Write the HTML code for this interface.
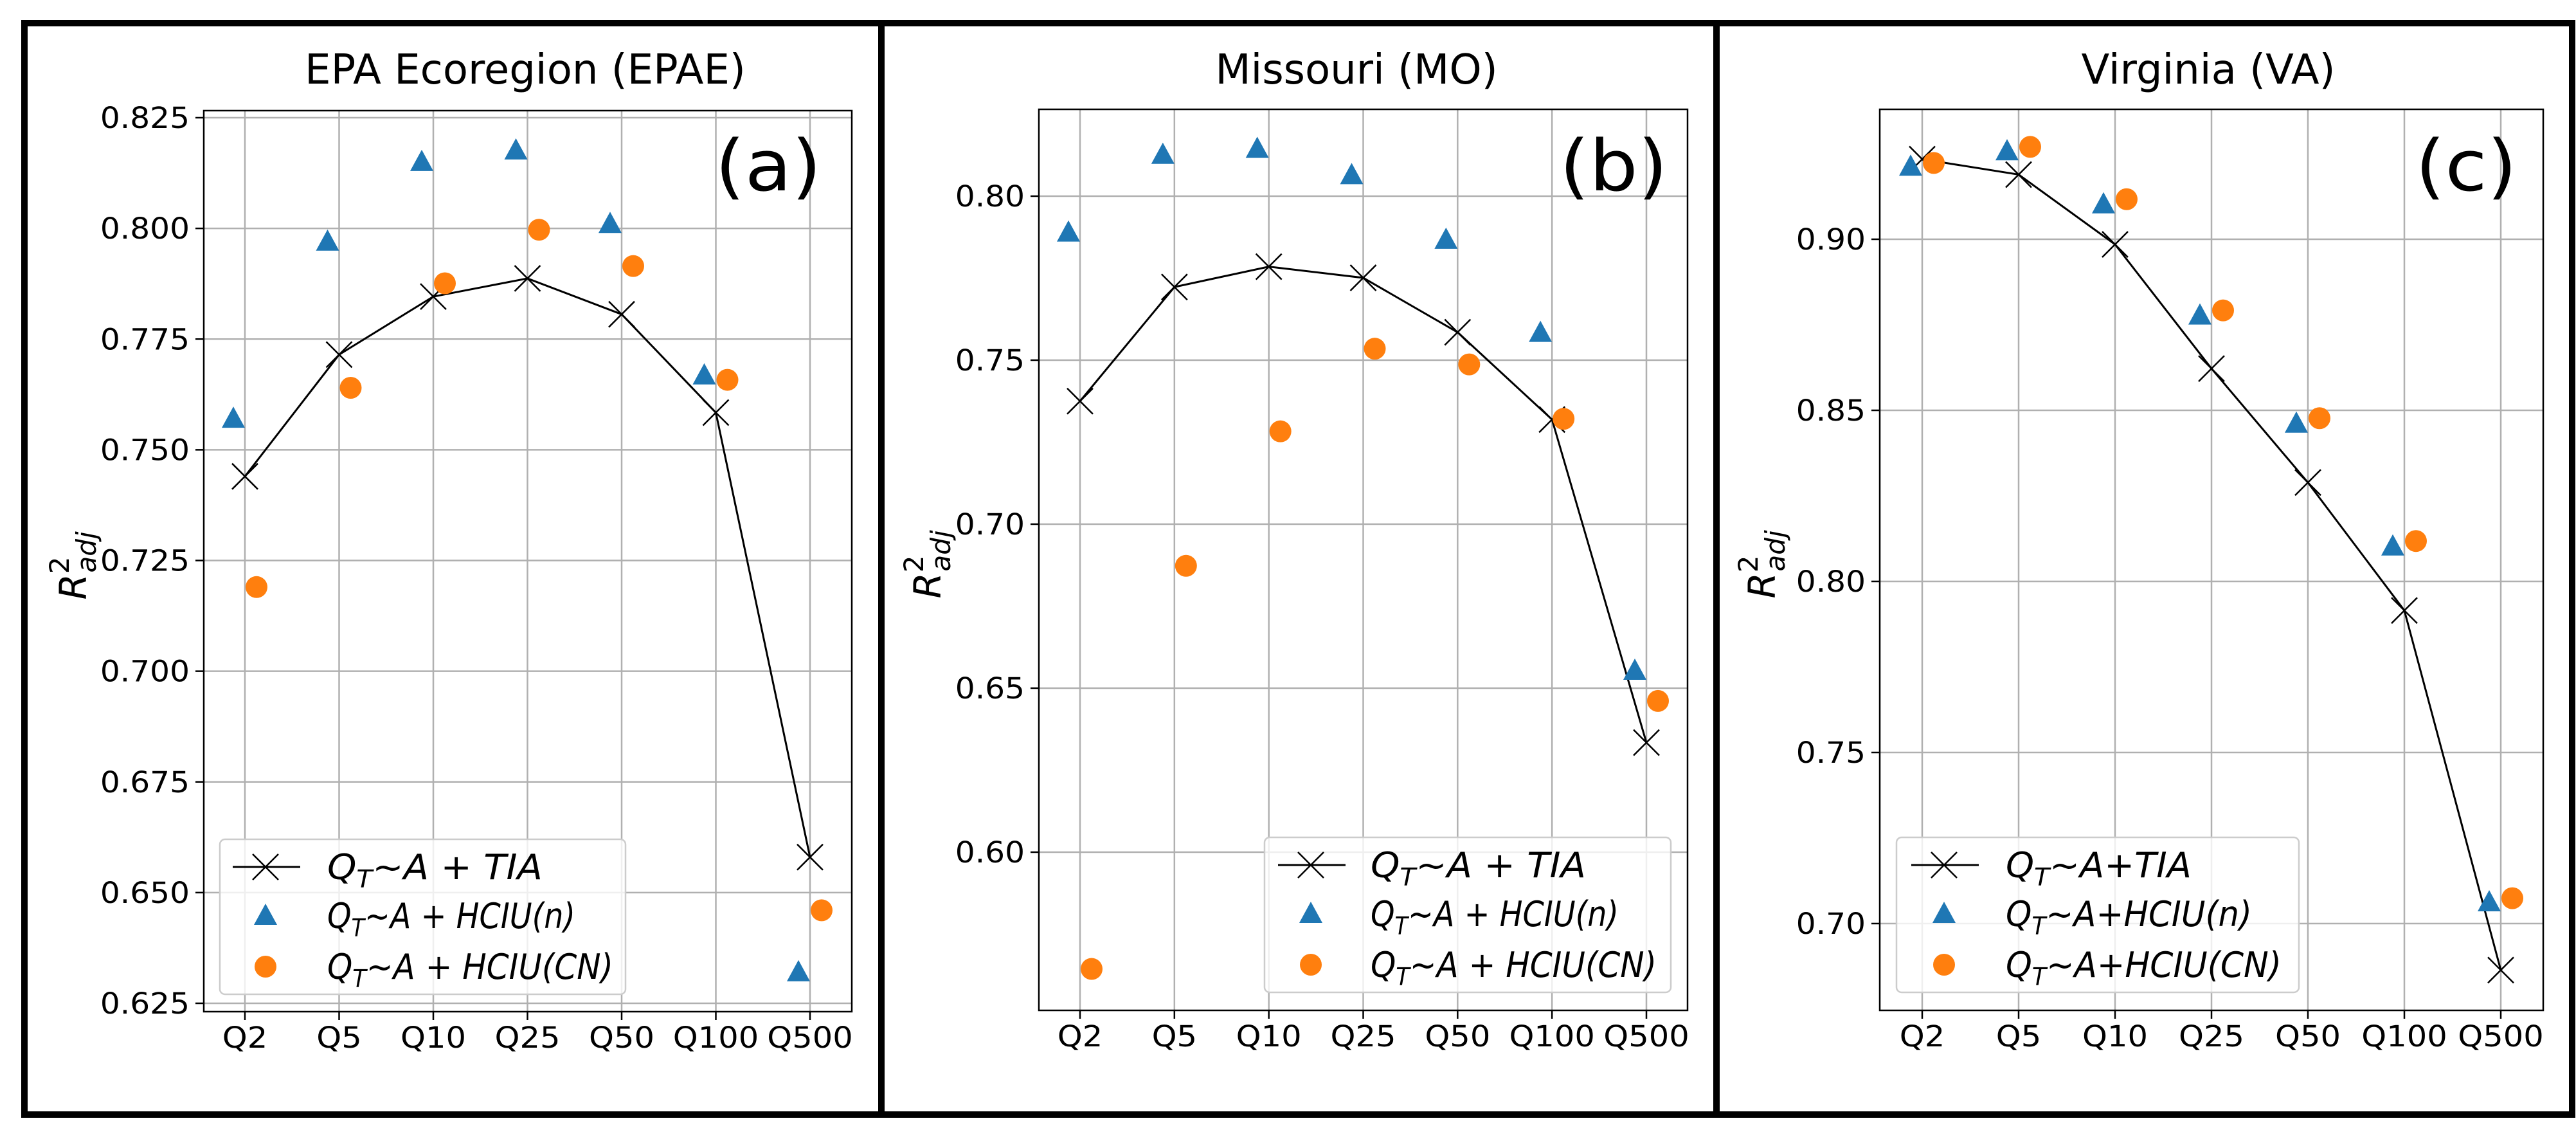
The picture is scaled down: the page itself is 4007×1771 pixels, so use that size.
<!DOCTYPE html>
<html><head><meta charset="utf-8"><style>
html,body{margin:0;padding:0;background:#fff;}
svg{display:block;}
text{font-family:"DejaVu Sans","Liberation Sans",sans-serif;}
</style></head><body>
<svg id="fig" width="4007" height="1771" viewBox="0 0 4007 1771" xmlns="http://www.w3.org/2000/svg">
<rect x="0" y="0" width="4007" height="1771" fill="#fff"/>
<rect x="38" y="36" width="3963" height="1697" fill="none" stroke="#000" stroke-width="10"/>
<line x1="1371" y1="36" x2="1371" y2="1733" stroke="#000" stroke-width="10"/>
<line x1="2670" y1="36" x2="2670" y2="1733" stroke="#000" stroke-width="10"/>
<g id="plots"></g>
</svg>
<script>
const categories = ["Q2","Q5","Q10","Q25","Q50","Q100","Q500"];
// Panel (a) EPA Ecoregion
const epaTIA  = [0.744,0.7715,0.7846,0.7887,0.7806,0.7584,0.658];
const epaHCIUn = [0.757,0.797,0.815,0.8176,0.801,0.7668,0.632];
const epaHCIUcn = [0.719,0.764,0.7876,0.7997,0.7915,0.7658,0.646];
const epaTicks = [0.625,0.650,0.675,0.700,0.725,0.750,0.775,0.800,0.825];
const epaTickLabels = ["0.625","0.650","0.675","0.700","0.725","0.750","0.775","0.800","0.825"];
// Panel (b) Missouri
const moTIA  = [0.7375,0.7723,0.7785,0.7751,0.7585,0.7319,0.6334];
const moHCIUn = [0.7889,0.8126,0.8144,0.8064,0.7867,0.7583,0.6553];
const moHCIUcn = [0.5644,0.6873,0.7283,0.7535,0.7487,0.7321,0.6461];
const moTicks = [0.60,0.65,0.70,0.75,0.80];
const moTickLabels = ["0.60","0.65","0.70","0.75","0.80"];
// Panel (c) Virginia
const vaTIA  = [0.9234,0.9189,0.8985,0.8622,0.8289,0.7915,0.6864];
const vaHCIUn = [0.9212,0.9257,0.9102,0.8777,0.8461,0.8102,0.7062];
const vaHCIUcn = [0.9223,0.9270,0.9117,0.8792,0.8477,0.8118,0.7074];
const vaTicks = [0.70,0.75,0.80,0.85,0.90];
const vaTickLabels = ["0.70","0.75","0.80","0.85","0.90"];

const NS = "http://www.w3.org/2000/svg";
const root = document.getElementById('plots');
function mk(tag, attrs, parent){
  const e = document.createElementNS(NS, tag);
  for (const k in attrs) e.setAttribute(k, attrs[k]);
  (parent||root).appendChild(e);
  return e;
}
function stretch(t, f){
  const w = t.getComputedTextLength();
  if (w > 0) { t.setAttribute('textLength', (w*f).toFixed(1)); t.setAttribute('lengthAdjust','spacingAndGlyphs'); }
}

const panels = [
  {key:'a', title:'EPA Ecoregion (EPAE)', letter:'(a)', L:317, R:1325, T:172, B:1573,
   v0:0.825, p0:183, v1:0.625, p1:1560, x0:381, x1:1260,
   tia:epaTIA, hn:epaHCIUn, hc:epaHCIUcn, ticks:epaTicks, tl:epaTickLabels,
   titleX:817, letterX:1195, ylabX:116, leg:{x:342,y:1305,w:631,h:241,mx:413,tx:509}, spaced:true, lw:[335,386,445]},
  {key:'b', title:'Missouri (MO)', letter:'(b)', L:1616, R:2625, T:170, B:1571,
   v0:0.80, p0:305, v1:0.60, p1:1325, x0:1680, x1:2561,
   tia:moTIA, hn:moHCIUn, hc:moHCIUcn, ticks:moTicks, tl:moTickLabels,
   titleX:2110, letterX:2510, ylabX:1445, leg:{x:1967,y:1302,w:632,h:241,mx:2039,tx:2132}, spaced:true, lw:[335,386,445]},
  {key:'c', title:'Virginia (VA)', letter:'(c)', L:2924, R:3956, T:170, B:1571,
   v0:0.90, p0:372, v1:0.70, p1:1436, x0:2990, x1:3890,
   tia:vaTIA, hn:vaHCIUn, hc:vaHCIUcn, ticks:vaTicks, tl:vaTickLabels,
   titleX:3435, letterX:3836, ylabX:2743, leg:{x:2950,y:1302,w:626,h:241,mx:3024,tx:3120}, spaced:false, lw:[289,383,429]}
];

function legendText(parent, x, y, rest, spaced, len){
  const t = mk('text', {x:x, y:y, 'font-size':54, 'font-style':'italic', fill:'#000', textLength:len, lengthAdjust:'spacingAndGlyphs'}, parent);
  
  
  const a = document.createElementNS(NS,'tspan'); a.textContent='Q'; t.appendChild(a);
  const b = document.createElementNS(NS,'tspan'); b.setAttribute('font-size','38'); b.setAttribute('dy','13'); b.textContent='T'; t.appendChild(b);
  const c = document.createElementNS(NS,'tspan'); c.setAttribute('dy','-13'); c.textContent = spaced ? ('~A + ' + rest) : ('~A+' + rest); t.appendChild(c);
}

function tri(parent, cx, cy){
  return mk('polygon', {points:`${cx},${cy-19} ${cx-18},${cy+14} ${cx+18},${cy+14}`, fill:'#1f77b4'}, parent);
}
function xmark(parent, cx, cy){
  return mk('path', {d:`M${cx-20},${cy-20}L${cx+20},${cy+20}M${cx-20},${cy+20}L${cx+20},${cy-20}`, stroke:'#000', 'stroke-width':2.5, fill:'none'}, parent);
}

panels.forEach(p => {
  const g = mk('g', {});
  
  
  const yS = v => p.p0 + (p.v0 - v) / (p.v0 - p.v1) * (p.p1 - p.p0);
  const xS = i => p.x0 + i * (p.x1 - p.x0) / (categories.length - 1);
  const off = 18;

  p.ticks.forEach((v, i) => {
    const y = yS(v);
    const gl = mk('line', {x1:p.L, x2:p.R, y1:y, y2:y, stroke:'#b0b0b0', 'stroke-width':2.5}, g);
    
    
    mk('line', {x1:p.L-13, x2:p.L, y1:y, y2:y, stroke:'#000', 'stroke-width':2.5}, g);
    const t = mk('text', {x:p.L-22, y:y+16, 'font-size':45, 'text-anchor':'end', fill:'#000'}, g);
    
    
    t.textContent = p.tl[i];
    stretch(t, 1.08);
  });
  categories.forEach((c, i) => {
    const x = xS(i);
    const gl = mk('line', {x1:x, x2:x, y1:p.T, y2:p.B, stroke:'#b0b0b0', 'stroke-width':2.5}, g);
    
    
    mk('line', {x1:x, x2:x, y1:p.B, y2:p.B+13, stroke:'#000', 'stroke-width':2.5}, g);
    const t = mk('text', {x:x, y:p.B+56, 'font-size':45, 'text-anchor':'middle', fill:'#000'}, g);
    
    
    t.textContent = c;
    stretch(t, 1.1);
  });

  const pts = p.tia.map((v, i) => `${xS(i)},${yS(v)}`).join(' ');
  const pl = mk('polyline', {points:pts, fill:'none', stroke:'#000', 'stroke-width':3}, g);
  
  
  p.tia.forEach((v, i) => {
    const m = xmark(g, xS(i), yS(v));
    
    
  });
  p.hn.forEach((v, i) => {
    const m = tri(g, xS(i) - off, yS(v));
    
    
  });
  p.hc.forEach((v, i) => {
    const m = mk('circle', {cx:xS(i) + off, cy:yS(v), r:17, fill:'#ff7f0e'}, g);
    
    
  });

  const fr = mk('rect', {x:p.L, y:p.T, width:p.R-p.L, height:p.B-p.T, fill:'none', stroke:'#000', 'stroke-width':2.5}, g);
  
  

  const tt = mk('text', {x:p.titleX, y:130, 'font-size':64, 'text-anchor':'middle', fill:'#000'}, g);
  
  
  tt.textContent = p.title;
  const lt = mk('text', {x:p.letterX, y:296, 'font-size':110, 'text-anchor':'middle', fill:'#000'}, g);
  
  
  lt.textContent = p.letter;
  stretch(lt, 1.08);

  const yl = mk('text', {x:0, y:0, 'font-size':58, 'font-style':'italic', fill:'#000', transform:`translate(${p.ylabX+18},${(p.T+p.B)/2 + 60}) rotate(-90)`}, g);
  
  
  const r1 = document.createElementNS(NS,'tspan'); r1.textContent='R'; yl.appendChild(r1);
  const r2 = document.createElementNS(NS,'tspan'); r2.setAttribute('font-size','42'); r2.setAttribute('font-style','normal'); r2.setAttribute('dy','-27'); r2.textContent='2'; yl.appendChild(r2);
  const r3 = document.createElementNS(NS,'tspan'); r3.setAttribute('font-size','42'); r3.setAttribute('dy','42'); r3.setAttribute('dx','-25'); r3.textContent='adj'; yl.appendChild(r3);

  const L = p.leg;
  const lg = mk('g', {}, g);
  
  
  mk('rect', {x:L.x, y:L.y, width:L.w, height:L.h, rx:8, fill:'#fff', 'fill-opacity':0.8, stroke:'#cccccc', 'stroke-width':2.5}, lg);
  const rows = [L.y+43, L.y+119, L.y+198];
  mk('line', {x1:L.mx-51, x2:L.mx+54, y1:rows[0], y2:rows[0], stroke:'#000', 'stroke-width':3}, lg);
  xmark(lg, L.mx, rows[0]);
  tri(lg, L.mx, rows[1]);
  mk('circle', {cx:L.mx, cy:rows[2], r:17, fill:'#ff7f0e'}, lg);
  legendText(lg, L.tx, rows[0]+19, 'TIA', p.spaced, p.lw[0]);
  legendText(lg, L.tx, rows[1]+19, 'HCIU(n)', p.spaced, p.lw[1]);
  legendText(lg, L.tx, rows[2]+19, 'HCIU(CN)', p.spaced, p.lw[2]);
});
</script>
</body></html>
